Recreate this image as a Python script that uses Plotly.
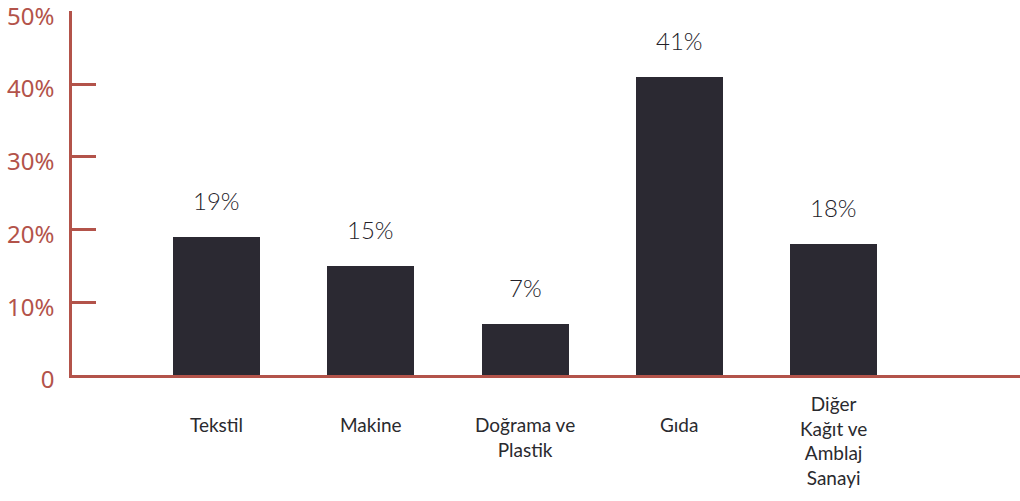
import plotly.graph_objects as go

# Sector shares (%)
categories = ["Tekstil", "Makine", "Doğrama ve Plastik", "Gıda", "Diğer Kağıt ve Amblaj Sanayi"]
shares = [19, 15, 7, 41, 18]
category_labels = ["Tekstil", "Makine", "Doğrama ve<br>Plastik", "Gıda", "Diğer<br>Kağıt ve<br>Amblaj<br>Sanayi"]
y_tick_values = [0, 10, 20, 30, 40, 50]
y_tick_labels = ["0", "10%", "20%", "30%", "40%", "50%"]

AXIS_RED = "#b3534a"
BAR_DARK = "#2b2932"

fig = go.Figure(
    go.Bar(
        x=categories,
        y=shares,
        width=0.564,
        marker=dict(color=BAR_DARK, line=dict(width=0)),
        hoverinfo="skip",
    )
)

# value labels above bars
for cat, val in zip(categories, shares):
    fig.add_annotation(
        x=cat, y=val, xref="x", yref="y",
        text=f"{val}%", showarrow=False,
        yanchor="bottom", yshift=20,
        font=dict(family="Lato", size=24, color="#232128", weight=300),
    )

# category labels under the axis
label_shift = [-36, -36, -36, -36, -15]
for cat, lab, ys in zip(categories, category_labels, label_shift):
    fig.add_annotation(
        x=cat, y=0, xref="x", yref="paper",
        text=lab, showarrow=False,
        yanchor="top", yshift=ys, align="center",
        font=dict(family="Lato", size=19, color="#2a2a2e"),
    )

fig.update_layout(
    width=1020, height=501,
    margin=dict(l=72, r=0, t=11, b=126, autoexpand=False),
    plot_bgcolor="white", paper_bgcolor="white",
    showlegend=False,
    bargap=0,
    xaxis=dict(
        type="category",
        range=[-0.937, 5.209],
        showline=True, linecolor=AXIS_RED, linewidth=2.5,
        showticklabels=False, ticks="", showgrid=False, zeroline=False,
        layer="below traces", automargin=False,
    ),
    yaxis=dict(
        range=[0, 50.05],
        tickvals=y_tick_values, ticktext=y_tick_labels,
        showline=True, linecolor=AXIS_RED, linewidth=2.5,
        ticks="inside", ticklen=24, tickwidth=2.5, tickcolor=AXIS_RED,
        ticklabelstandoff=10, ticklabelshift=5, ticklabeloverflow="allow",
        tickfont=dict(family="Noto Sans", size=24, color=AXIS_RED),
        showgrid=False, zeroline=False,
        layer="below traces", automargin=False,
    ),
)

fig.write_html("out.html")
